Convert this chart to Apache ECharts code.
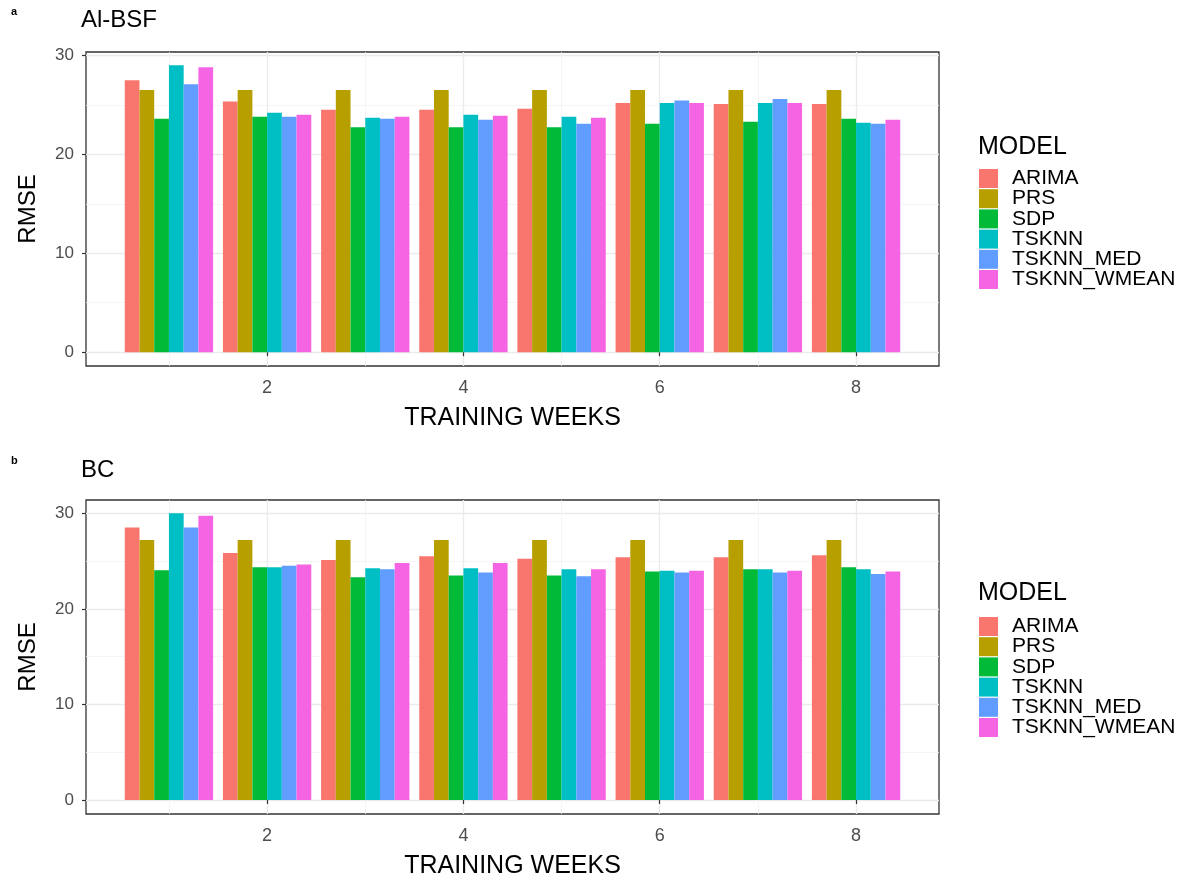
<!DOCTYPE html>
<html>
<head>
<meta charset="utf-8">
<script src="https://cdn.jsdelivr.net/npm/echarts@6/dist/echarts.min.js"></script>
<style>html,body{margin:0;padding:0;background:#fff}#c{width:1187px;height:881px}</style>
</head>
<body>
<div id="c"></div>
<script>
const weeks = [1, 2, 3, 4, 5, 6, 7, 8];
const models = ['ARIMA', 'PRS', 'SDP', 'TSKNN', 'TSKNN_MED', 'TSKNN_WMEAN'];
const colors = ['#F8766D', '#B79F00', '#00BA38', '#00BFC4', '#619CFF', '#F564E3'];
const xTicks = [2, 4, 6, 8];
const xMinor = [1, 3, 5, 7];
const yTicks = [0, 10, 20, 30];
const yMinor = [5, 15, 25];

// Panel a: AI-BSF
const aARIMA = [27.5, 25.35, 24.5, 24.5, 24.6, 25.2, 25.1, 25.1];
const aPRS = [26.5, 26.5, 26.5, 26.5, 26.5, 26.5, 26.5, 26.5];
const aSDP = [23.6, 23.8, 22.75, 22.75, 22.75, 23.1, 23.3, 23.6];
const aTSKNN = [29.0, 24.2, 23.7, 24.0, 23.8, 25.2, 25.2, 23.2];
const aMED = [27.1, 23.8, 23.6, 23.5, 23.1, 25.45, 25.6, 23.1];
const aWMEAN = [28.8, 24.0, 23.8, 23.9, 23.7, 25.2, 25.2, 23.5];

// Panel b: BC
const bARIMA = [28.5, 25.85, 25.1, 25.5, 25.25, 25.4, 25.4, 25.6];
const bPRS = [27.2, 27.2, 27.2, 27.2, 27.2, 27.2, 27.2, 27.2];
const bSDP = [24.05, 24.35, 23.3, 23.5, 23.5, 23.9, 24.15, 24.35];
const bTSKNN = [30.0, 24.35, 24.25, 24.25, 24.15, 24.0, 24.15, 24.15];
const bMED = [28.5, 24.5, 24.15, 23.8, 23.4, 23.8, 23.8, 23.65];
const bWMEAN = [29.75, 24.65, 24.8, 24.8, 24.15, 24.0, 24.0, 23.9];

const panelA = [aARIMA, aPRS, aSDP, aTSKNN, aMED, aWMEAN];
const panelB = [bARIMA, bPRS, bSDP, bTSKNN, bMED, bWMEAN];

const FONT = '"Liberation Sans", Arial, sans-serif';
const BAR_GROUP = 0.9;
const BAR_W = BAR_GROUP / models.length;

function makeSeries(panelData, gridIdx) {
  return panelData.map((vals, i) => ({
    type: 'custom',
    name: models[i],
    xAxisIndex: gridIdx * 2,
    yAxisIndex: gridIdx * 2,
    itemStyle: { color: colors[i] },
    encode: { x: 0, y: 1 },
    data: weeks.map((w, k) => [w, vals[k]]),
    renderItem: function (params, api) {
      const w = api.value(0), v = api.value(1);
      const left = w - BAR_GROUP / 2 + i * BAR_W;
      const p0 = api.coord([left, v]);
      const p1 = api.coord([left + BAR_W, 0]);
      return {
        type: 'rect',
        shape: { x: p0[0], y: p0[1], width: p1[0] - p0[0], height: p1[1] - p0[1] },
        style: { fill: colors[i] }
      };
    }
  }));
}

function makeXAxes(gridIdx) {
  return [
    {
      type: 'value', gridIndex: gridIdx, min: 0.155, max: 8.845,
      name: 'TRAINING WEEKS', nameLocation: 'middle', nameGap: 40,
      nameTextStyle: { fontSize: 25, color: '#000', fontFamily: FONT },
      axisLine: { show: false },
      axisTick: { show: true, length: 4, lineStyle: { color: '#333', width: 1.2 }, customValues: xTicks },
      axisLabel: { color: '#4D4D4D', fontSize: 18, margin: 13, fontFamily: FONT, customValues: xTicks },
      splitLine: { show: true, lineStyle: { color: '#EBEBEB', width: 1.3 } }
    },
    {
      type: 'value', gridIndex: gridIdx, min: 0.155, max: 8.845, position: 'top',
      axisLine: { show: false },
      axisTick: { show: false, customValues: xMinor },
      axisLabel: { show: false, customValues: xMinor },
      splitLine: { show: true, lineStyle: { color: '#F2F2F2', width: 0.8 } }
    }
  ];
}

function makeYAxes(gridIdx, min, max) {
  return [
    {
      type: 'value', gridIndex: gridIdx, min: min, max: max,
      name: 'RMSE', nameLocation: 'middle', nameGap: 46, nameRotate: 90,
      nameTextStyle: { fontSize: 24, color: '#000', fontFamily: FONT },
      axisLine: { show: false },
      axisTick: { show: true, length: 4, lineStyle: { color: '#333', width: 1.2 }, customValues: yTicks },
      axisLabel: { color: '#4D4D4D', fontSize: 17, margin: 12, fontFamily: FONT, customValues: yTicks },
      splitLine: { show: true, lineStyle: { color: '#EBEBEB', width: 1.3 } }
    },
    {
      type: 'value', gridIndex: gridIdx, min: min, max: max, position: 'right',
      axisLine: { show: false },
      axisTick: { show: false, customValues: yMinor },
      axisLabel: { show: false, customValues: yMinor },
      splitLine: { show: true, lineStyle: { color: '#F2F2F2', width: 0.8 } }
    }
  ];
}

function makeLegend(top) {
  return {
    orient: 'vertical', left: 979, top: top, padding: 0,
    icon: 'rect', itemWidth: 19, itemHeight: 19, itemGap: -0.8,
    selectedMode: false,
    textStyle: { fontSize: 21, lineHeight: 19, color: '#000', fontFamily: FONT, padding: [0, 0, 0, 9] },
    data: models
  };
}

function txt(text, left, top, size, bold) {
  return { text: text, left: left, top: top, padding: 0,
    textStyle: { fontSize: size, fontWeight: bold ? 'bold' : 'normal', color: '#000', fontFamily: FONT } };
}

const option = {
  animation: false,
  backgroundColor: '#fff',
  title: [
    txt('a', 11, 6, 11, true),
    txt('Al-BSF', 81, 8, 24, false),
    txt('MODEL', 978, 135, 25, false),
    txt('b', 11, 455, 11, true),
    txt('BC', 81, 458, 24, false),
    txt('MODEL', 978, 581, 25, false)
  ],
  legend: [makeLegend(168), makeLegend(616)],
  grid: [
    { left: 86, top: 52, width: 853, height: 314, show: true, borderColor: '#333', borderWidth: 1.3, backgroundColor: '#fff' },
    { left: 86, top: 500, width: 853, height: 314, show: true, borderColor: '#333', borderWidth: 1.3, backgroundColor: '#fff' }
  ],
  xAxis: [...makeXAxes(0), ...makeXAxes(1)],
  yAxis: [...makeYAxes(0, -1.4, 30.35), ...makeYAxes(1, -1.46, 31.39)],
  series: [...makeSeries(panelA, 0), ...makeSeries(panelB, 1)]
};

const chart = echarts.init(document.getElementById('c'), null, { renderer: 'canvas' });
chart.setOption(option);
</script>
</body>
</html>
